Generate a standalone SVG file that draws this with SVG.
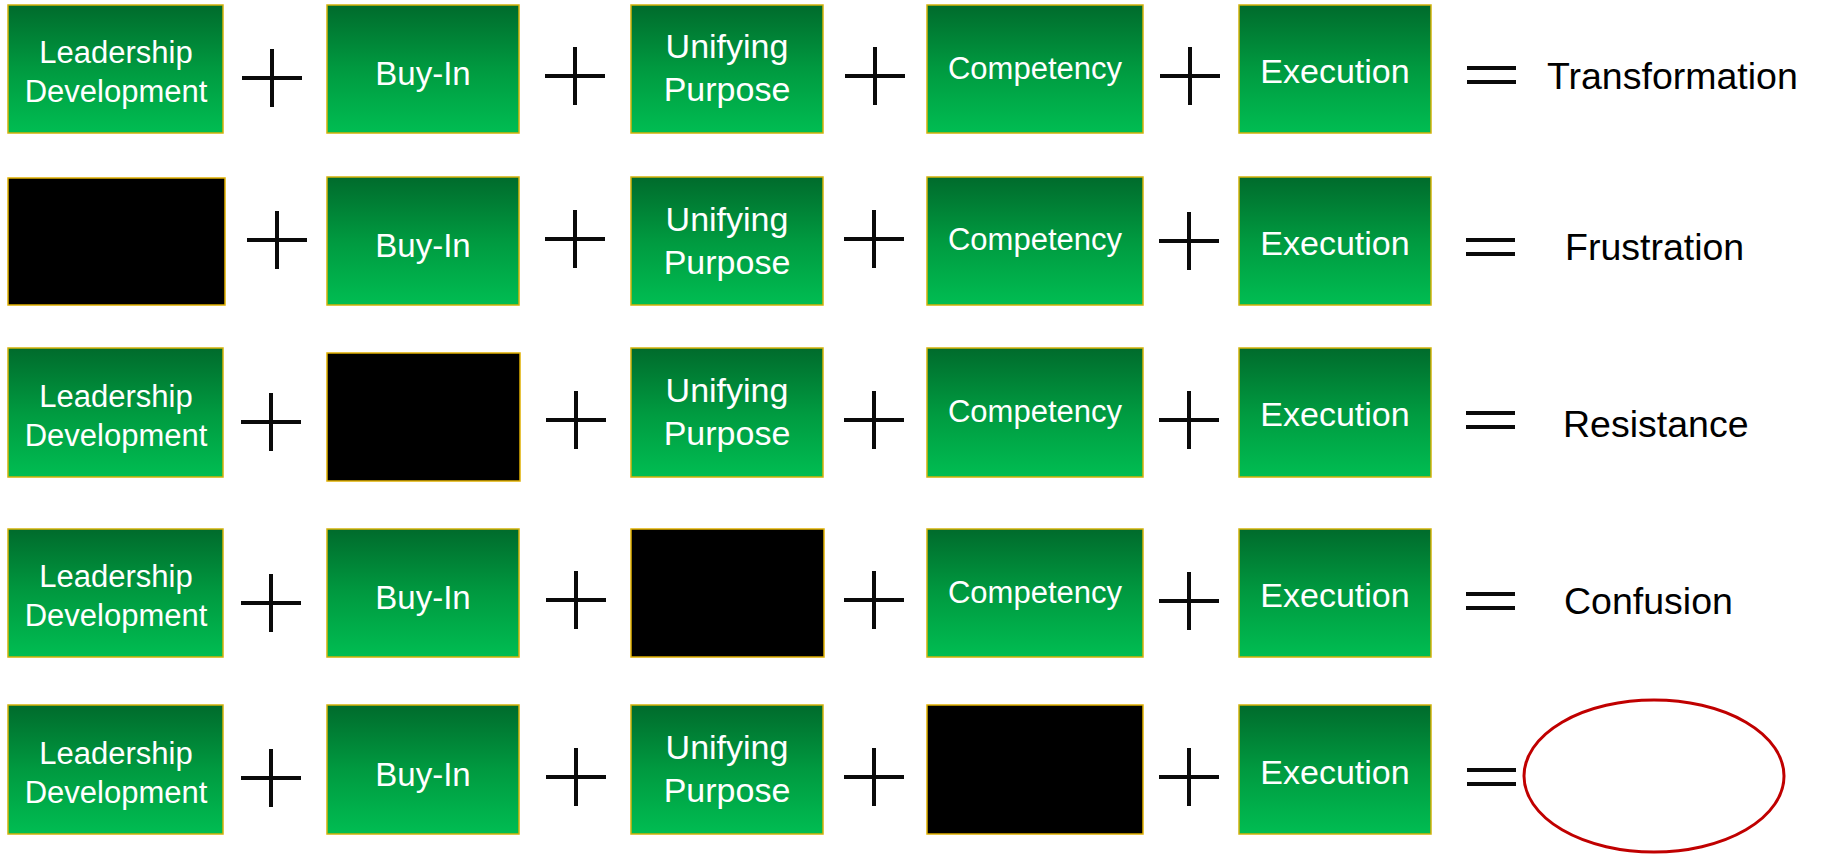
<svg xmlns="http://www.w3.org/2000/svg" width="1822" height="854" viewBox="0 0 1822 854">
  <defs>
    <linearGradient id="greenFill" x1="0" y1="0" x2="0" y2="1">
      <stop offset="0" stop-color="#006b2c"/>
      <stop offset="0.5" stop-color="#009a40"/>
      <stop offset="1" stop-color="#00bd52"/>
    </linearGradient>
    <!-- plus operator centred on its origin -->
    <g id="plus">
      <line x1="-30" y1="0" x2="30" y2="0" class="op"/>
      <line x1="0" y1="-29" x2="0" y2="29" class="op"/>
    </g>
    <!-- equals operator, top bar at origin -->
    <g id="equals">
      <line x1="0" y1="0" x2="49" y2="0" class="op"/>
      <line x1="0" y1="14" x2="49" y2="14" class="op"/>
    </g>
  </defs>
  <style>
    .box { fill: url(#greenFill); stroke: #d2b20a; stroke-width: 1.5; }
    .blank { fill: #000000; stroke: #e0b000; stroke-width: 1.5; }
    .lbl { fill: #ffffff; font-family: "Liberation Sans", Arial, sans-serif; text-anchor: middle; }
    .lead { font-size: 31px; }
    .res { fill: #000000; font-family: "Liberation Sans", Arial, sans-serif; font-size: 37.5px; }
    .op { stroke: #0a0a0a; stroke-width: 4; stroke-linecap: butt; }
    .ring { fill: none; stroke: #c00000; stroke-width: 3; }
  </style>

  <rect width="1822" height="854" fill="#ffffff"/>

  <!-- Row 1: all factors present -->
  <g id="r1-leadership"><rect class="box" x="8" y="5" width="215" height="128"/>
    <text class="lbl lead" x="116" y="63">Leadership</text>
    <text class="lbl lead" x="116" y="102">Development</text></g>
  <g id="r1-buyin"><rect class="box" x="327" y="5" width="192" height="128"/>
    <text class="lbl" x="423" y="85" font-size="33">Buy-In</text></g>
  <g id="r1-purpose"><rect class="box" x="631" y="5" width="192" height="128"/>
    <text class="lbl" x="727" y="58" font-size="34">Unifying</text>
    <text class="lbl" x="727" y="101" font-size="34">Purpose</text></g>
  <g id="r1-competency"><rect class="box" x="927" y="5" width="216" height="128"/>
    <text class="lbl" x="1035" y="79" font-size="31">Competency</text></g>
  <g id="r1-execution"><rect class="box" x="1239" y="5" width="192" height="128"/>
    <text class="lbl" x="1335" y="83" font-size="34">Execution</text></g>
  <g id="r1-result"><text class="res" x="1547" y="89">Transformation</text></g>

  <!-- Row 2: leadership missing -->
  <g id="r2-leadership"><rect class="blank" x="8" y="178" width="217" height="127"/></g>
  <g id="r2-buyin"><rect class="box" x="327" y="177" width="192" height="128"/>
    <text class="lbl" x="423" y="257" font-size="33">Buy-In</text></g>
  <g id="r2-purpose"><rect class="box" x="631" y="177" width="192" height="128"/>
    <text class="lbl" x="727" y="231" font-size="34">Unifying</text>
    <text class="lbl" x="727" y="274" font-size="34">Purpose</text></g>
  <g id="r2-competency"><rect class="box" x="927" y="177" width="216" height="128"/>
    <text class="lbl" x="1035" y="250" font-size="31">Competency</text></g>
  <g id="r2-execution"><rect class="box" x="1239" y="177" width="192" height="128"/>
    <text class="lbl" x="1335" y="255" font-size="34">Execution</text></g>
  <g id="r2-result"><text class="res" x="1565" y="260">Frustration</text></g>

  <!-- Row 3: buy-in missing -->
  <g id="r3-leadership"><rect class="box" x="8" y="348" width="215" height="129"/>
    <text class="lbl lead" x="116" y="407">Leadership</text>
    <text class="lbl lead" x="116" y="446">Development</text></g>
  <g id="r3-buyin"><rect class="blank" x="327" y="353" width="193" height="128"/></g>
  <g id="r3-purpose"><rect class="box" x="631" y="348" width="192" height="129"/>
    <text class="lbl" x="727" y="402" font-size="34">Unifying</text>
    <text class="lbl" x="727" y="445" font-size="34">Purpose</text></g>
  <g id="r3-competency"><rect class="box" x="927" y="348" width="216" height="129"/>
    <text class="lbl" x="1035" y="422" font-size="31">Competency</text></g>
  <g id="r3-execution"><rect class="box" x="1239" y="348" width="192" height="129"/>
    <text class="lbl" x="1335" y="426" font-size="34">Execution</text></g>
  <g id="r3-result"><text class="res" x="1563" y="437">Resistance</text></g>

  <!-- Row 4: unifying purpose missing -->
  <g id="r4-leadership"><rect class="box" x="8" y="529" width="215" height="128"/>
    <text class="lbl lead" x="116" y="587">Leadership</text>
    <text class="lbl lead" x="116" y="626">Development</text></g>
  <g id="r4-buyin"><rect class="box" x="327" y="529" width="192" height="128"/>
    <text class="lbl" x="423" y="609" font-size="33">Buy-In</text></g>
  <g id="r4-purpose"><rect class="blank" x="631" y="529" width="193" height="128"/></g>
  <g id="r4-competency"><rect class="box" x="927" y="529" width="216" height="128"/>
    <text class="lbl" x="1035" y="603" font-size="31">Competency</text></g>
  <g id="r4-execution"><rect class="box" x="1239" y="529" width="192" height="128"/>
    <text class="lbl" x="1335" y="607" font-size="34">Execution</text></g>
  <g id="r4-result"><text class="res" x="1564" y="614">Confusion</text></g>

  <!-- Row 5: competency missing, outcome left open -->
  <g id="r5-leadership"><rect class="box" x="8" y="705" width="215" height="129"/>
    <text class="lbl lead" x="116" y="764">Leadership</text>
    <text class="lbl lead" x="116" y="803">Development</text></g>
  <g id="r5-buyin"><rect class="box" x="327" y="705" width="192" height="129"/>
    <text class="lbl" x="423" y="786" font-size="33">Buy-In</text></g>
  <g id="r5-purpose"><rect class="box" x="631" y="705" width="192" height="129"/>
    <text class="lbl" x="727" y="759" font-size="34">Unifying</text>
    <text class="lbl" x="727" y="802" font-size="34">Purpose</text></g>
  <g id="r5-competency"><rect class="blank" x="927" y="705" width="216" height="129"/></g>
  <g id="r5-execution"><rect class="box" x="1239" y="705" width="192" height="129"/>
    <text class="lbl" x="1335" y="784" font-size="34">Execution</text></g>
  <g id="r5-result"><ellipse class="ring" cx="1654" cy="776" rx="130" ry="76"/></g>

  <!-- operators between the terms -->
  <g id="operators">
    <use href="#plus" x="272" y="78"/>
    <use href="#plus" x="575" y="76"/>
    <use href="#plus" x="875" y="76"/>
    <use href="#plus" x="1190" y="76"/>
    <use href="#equals" x="1467" y="68"/>

    <use href="#plus" x="277" y="240"/>
    <use href="#plus" x="575" y="239"/>
    <use href="#plus" x="874" y="239"/>
    <use href="#plus" x="1189" y="241"/>
    <use href="#equals" x="1466" y="240"/>

    <use href="#plus" x="271" y="422"/>
    <use href="#plus" x="576" y="420"/>
    <use href="#plus" x="874" y="420"/>
    <use href="#plus" x="1189" y="420"/>
    <use href="#equals" x="1466" y="413"/>

    <use href="#plus" x="271" y="603"/>
    <use href="#plus" x="576" y="600"/>
    <use href="#plus" x="874" y="600"/>
    <use href="#plus" x="1189" y="601"/>
    <use href="#equals" x="1466" y="594"/>

    <use href="#plus" x="271" y="778"/>
    <use href="#plus" x="576" y="777"/>
    <use href="#plus" x="874" y="777"/>
    <use href="#plus" x="1189" y="777"/>
    <use href="#equals" x="1467" y="770"/>
  </g>
</svg>
